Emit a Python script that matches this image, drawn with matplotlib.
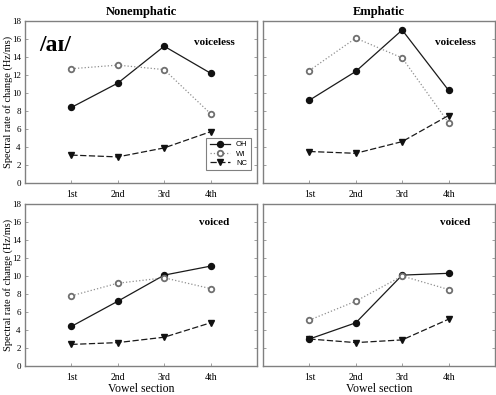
import matplotlib
matplotlib.use("Agg")
import matplotlib.pyplot as plt

sections = ["1st", "2nd", "3rd", "4th"]
xpos = [1, 2, 3, 4]

# top row: voiceless, bottom row: voiced; left nonemphatic, right emphatic
oh_vl_non = [8.4, 11.1, 15.2, 12.2]
wi_vl_non = [12.7, 13.1, 12.6, 7.7]
nc_vl_non = [3.1, 2.9, 3.9, 5.7]

oh_vl_emp = [9.2, 12.4, 17.0, 10.3]
wi_vl_emp = [12.5, 16.1, 13.9, 6.7]
nc_vl_emp = [3.5, 3.3, 4.6, 7.5]

oh_vd_non = [4.4, 7.2, 10.1, 11.1]
wi_vd_non = [7.8, 9.2, 9.8, 8.6]
nc_vd_non = [2.4, 2.6, 3.2, 4.8]

oh_vd_emp = [3.0, 4.8, 10.1, 10.3]
wi_vd_emp = [5.1, 7.2, 10.0, 8.5]
nc_vd_emp = [3.0, 2.6, 2.9, 5.2]

serif = "Liberation Serif"
sans = "Liberation Sans"
spine_col = "#808080"

fig = plt.figure(figsize=(4.96, 3.95), dpi=100)
boxes = [
    [0.0504, 0.5367, 0.4677, 0.4101],
    [0.5302, 0.5367, 0.4677, 0.4101],
    [0.0504, 0.0734, 0.4677, 0.4101],
    [0.5302, 0.0734, 0.4677, 0.4101],
]
panels = [
    (oh_vl_non, wi_vl_non, nc_vl_non, "voiceless"),
    (oh_vl_emp, wi_vl_emp, nc_vl_emp, "voiceless"),
    (oh_vd_non, wi_vd_non, nc_vd_non, "voiced"),
    (oh_vd_emp, wi_vd_emp, nc_vd_emp, "voiced"),
]

for i, (box, (oh, wi, nc, lab)) in enumerate(zip(boxes, panels)):
    ax = fig.add_axes(box)
    ax.plot(xpos, oh, color="#1a1a1a", lw=0.9, ls="-", marker="o",
            ms=4.3, mfc="#111111", mec="#111111", label="OH")
    ax.plot(xpos, wi, color="#909090", lw=0.9, ls=":", marker="o",
            ms=4.0, mfc="white", mec="#707070", mew=1.3, label="WI")
    ax.plot(xpos, nc, color="#1a1a1a", lw=0.9, ls=(0, (5, 2)), marker="v",
            ms=4.5, mfc="#111111", mec="#111111", label="NC")
    ax.set_xlim(0, 5)
    ax.set_ylim(0, 18)
    ax.set_xticks(xpos)
    ax.set_xticklabels(sections, fontfamily=serif, fontsize=7)
    ax.set_yticks(range(0, 19, 2))
    if i % 2 == 0:
        ax.set_yticklabels([str(v) for v in range(0, 19, 2)], fontfamily=serif, fontsize=6.5)
        ax.set_ylabel("Spectral rate of change (Hz/ms)", fontfamily=serif, fontsize=7.5,
                      va="center")
        ax.yaxis.set_label_coords(-0.075, 0.5)
    else:
        ax.set_yticklabels([])
    ax.tick_params(direction="in", length=2.5, width=0.7, color="#a0a0a0",
                   right=True, pad=3)
    ax.tick_params(axis="x", pad=5)
    for s in ax.spines.values():
        s.set_color(spine_col)
        s.set_linewidth(1.0)
    lx = 4.08 if i % 2 == 0 else 4.14
    ly = 15.6 if lab == "voiceless" else 15.9
    ax.text(lx, ly, lab, fontfamily=serif, fontweight="bold", fontsize=8,
            ha="center", va="center")
    if i == 0:
        ax.text(0.66, 15.3, "/a\u026a/", fontfamily=serif, fontweight="bold",
                fontsize=17, ha="center", va="center")
        leg = ax.legend(loc="lower right", prop={"family": sans, "size": 5.5},
                        fancybox=False, edgecolor=spine_col, framealpha=1,
                        handlelength=2.6, borderpad=0.45, labelspacing=0.25,
                        bbox_to_anchor=(0.99, 0.055))
        leg.get_frame().set_linewidth(0.8)
    if i == 0:
        ax.set_title("Nonemphatic", fontfamily=serif, fontweight="bold", fontsize=9, pad=4)
    if i == 1:
        ax.set_title("Emphatic", fontfamily=serif, fontweight="bold", fontsize=9, pad=4)
    if i >= 2:
        ax.set_xlabel("Vowel section", fontfamily=serif, fontsize=8.5, va="center")
        ax.xaxis.set_label_coords(0.5, -0.143)

fig.savefig("out.png", dpi=100)
